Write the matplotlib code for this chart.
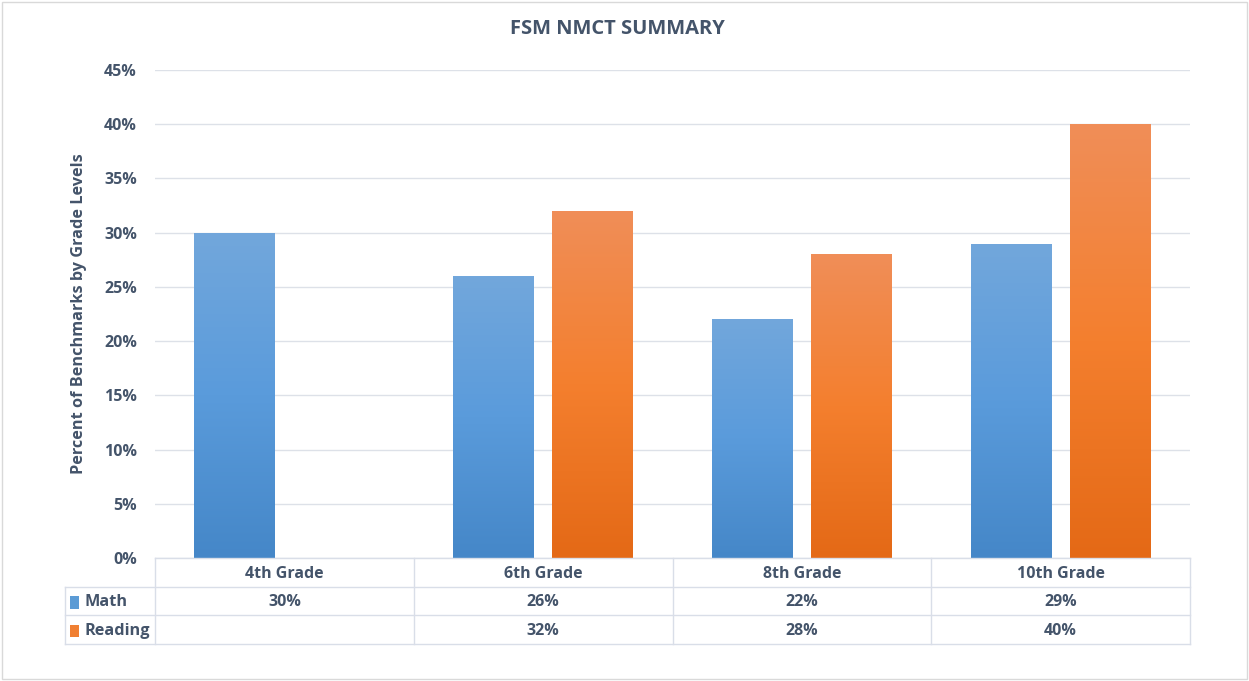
import numpy as np
import matplotlib.pyplot as plt
import matplotlib.patches as mpatches
from matplotlib.colors import LinearSegmentedColormap
from matplotlib.transforms import blended_transform_factory

# data
categories = ['4th Grade', '6th Grade', '8th Grade', '10th Grade']
math_vals = [30, 26, 22, 29]
reading_vals = [np.nan, 32, 28, 40]
series_names = ['Math', 'Reading']
yticks = [0, 5, 10, 15, 20, 25, 30, 35, 40, 45]

txt_color = '#44546A'
grid_color = '#DDE1E8'
plt.rcParams['font.family'] = ['Open Sans', 'DejaVu Sans']

blue_cmap = LinearSegmentedColormap.from_list('b', ['#4587C8', '#5A9BDB', '#72A7DC'])
orange_cmap = LinearSegmentedColormap.from_list('o', ['#E46916', '#F47F2E', '#F08E58'])

fig = plt.figure(figsize=(12.49, 6.81), dpi=100)
ax = fig.add_axes([0.1241, 0.1806, 0.8287, 0.7166])

x = np.arange(len(categories))
w = 0.313
off = 0.191


def gradient_bars(bars, cmap):
    grad = np.linspace(0, 1, 256).reshape(-1, 1)
    for b in bars:
        h = b.get_height()
        if np.isnan(h) or h == 0:
            continue
        b.set_facecolor('none')
        b.set_edgecolor('none')
        im = ax.imshow(grad, cmap=cmap, origin='lower', aspect='auto',
                       extent=[b.get_x(), b.get_x() + b.get_width(), 0, h], zorder=3)
        im.set_clip_path(b)


b1 = ax.bar(x - off, math_vals, w, zorder=3)
b2 = ax.bar(x + off, reading_vals, w, zorder=3)
gradient_bars(b1, blue_cmap)
gradient_bars(b2, orange_cmap)

ax.set_xlim(-0.5, len(categories) - 0.5)
ax.set_ylim(0, 45)
ax.set_yticks(yticks)
ax.set_yticklabels(['%d%%' % v for v in yticks], fontsize=11.5, fontweight='bold', color=txt_color)
ax.set_xticks([])
ax.tick_params(axis='y', length=0, pad=13)
ax.grid(axis='y', color=grid_color, linewidth=1, zorder=0)
for s in ax.spines.values():
    s.set_visible(False)

ax.set_ylabel('Percent of Benchmarks by Grade Levels', fontsize=11.7, fontweight='bold',
              color=txt_color, labelpad=12)
fig.text(0.4944, 0.957, 'FSM NMCT SUMMARY', ha='center', va='center', fontsize=14.5,
         fontweight='bold', color=txt_color)

# data table under the plot
tr = blended_transform_factory(ax.transData, ax.transAxes)
rows_y = [0, -0.0594, -0.1168, -0.1762]
left_x = -0.5 - 0.347
right_x = len(categories) - 0.5
line_kw = dict(color='#D9DEE8', linewidth=1, transform=tr, clip_on=False, zorder=5)

ax.plot([-0.5, right_x], [rows_y[0], rows_y[0]], **line_kw)
for yy in rows_y[1:]:
    ax.plot([left_x, right_x], [yy, yy], **line_kw)
ax.plot([left_x, left_x], [rows_y[1], rows_y[3]], **line_kw)
for i in range(len(categories) + 1):
    ax.plot([i - 0.5, i - 0.5], [rows_y[0], rows_y[3]], **line_kw)

for i, c in enumerate(categories):
    ax.text(i, (rows_y[0] + rows_y[1]) / 2 - 0.003, c, transform=tr, ha='center', va='center',
            fontsize=11.5, fontweight='bold', color=txt_color)
    for vals, r in ((math_vals, 1), (reading_vals, 2)):
        if not np.isnan(vals[i]):
            ax.text(i, (rows_y[r] + rows_y[r + 1]) / 2 - 0.003, '%d%%' % vals[i], transform=tr,
                    ha='center', va='center', fontsize=11.5, fontweight='bold', color=txt_color)

for r, (name, col) in enumerate(zip(series_names, ['#5B9BD5', '#F07F32'])):
    yc = (rows_y[r + 1] + rows_y[r + 2]) / 2 - 0.003
    ax.add_patch(mpatches.Rectangle((left_x + 0.02, yc - 0.013), 0.032, 0.026, transform=tr,
                                    facecolor=col, edgecolor='none', clip_on=False, zorder=5))
    ax.text(left_x + 0.075, yc, name, transform=tr, ha='left', va='center', fontsize=11.7,
            fontweight='bold', color=txt_color)

# light frame round the whole chart
fig.patches.append(mpatches.Rectangle((0.002, 0.003), 0.996, 0.994, transform=fig.transFigure,
                                      fill=False, edgecolor='#D9D9D9', linewidth=1))

fig.savefig('out.png', dpi=100)
